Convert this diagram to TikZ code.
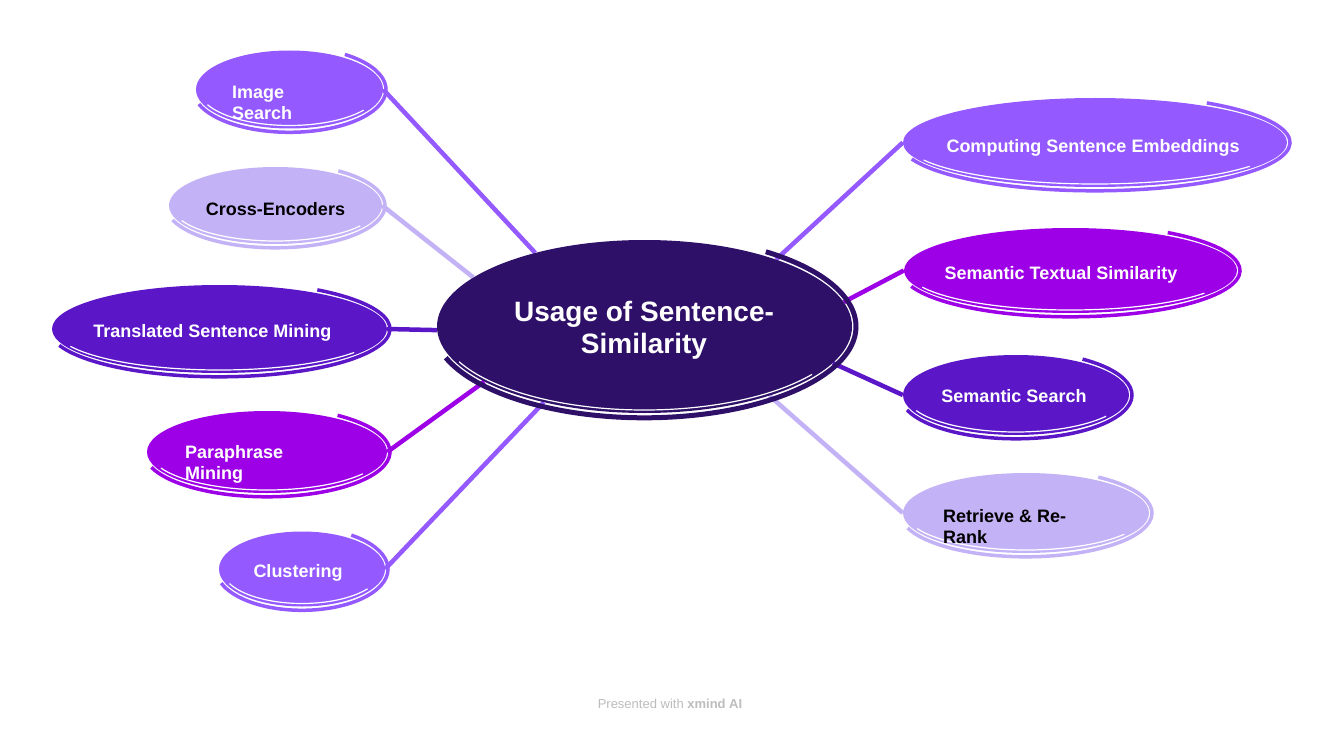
\documentclass[tikz,border=0pt]{standalone}
\usepackage{fontspec}
\setmainfont{Liberation Sans}
\usetikzlibrary{shapes.geometric}
\definecolor{cdark}{HTML}{2E1068}
\definecolor{cmed}{HTML}{9459FF}
\definecolor{cind}{HTML}{5B16C8}
\definecolor{cmag}{HTML}{9D00E6}
\definecolor{clav}{HTML}{C4B2F7}
\definecolor{cfoot}{HTML}{BDBDBD}
\pgfdeclarelayer{bg}
\pgfsetlayers{bg,main}
\newcommand\sketchblob[8]{%
  \node[blob, fill=#6, minimum width={2*#4}, minimum height={2*#5}] (#1) at (#2,#3) {};
  \pgfmathsetmacro\sbA{#4+#8}\pgfmathsetmacro\sbB{#5+#8+0.8}%
  \draw[#6, line width=#7] (#1.center) ++({\sbA*cos(-55)},{\sbB*sin(-55)})
     arc[start angle=-55, end angle=160, x radius=\sbA, y radius=\sbB];
  \pgfmathsetmacro\sbC{#4-3}\pgfmathsetmacro\sbD{#5-3}%
  \draw[white, line width=1.2pt] (#1.center) ++({\sbC*cos(35)},{\sbD*sin(35)})
     arc[start angle=35, end angle=155, x radius=\sbC, y radius=\sbD];
}
\begin{document}
\begin{tikzpicture}[x=1pt,y=-1pt,
  blob/.style={ellipse, inner sep=0pt, draw=none},
  lbl/.style={font=\bfseries\fontsize{18}{21}\selectfont, inner sep=0pt, text height=12.9pt, text depth=0pt},
  lblm/.style={font=\bfseries\fontsize{18}{21}\selectfont, inner sep=0pt, align=left, anchor=west},
  conn/.style={line width=4.5pt}]
\useasboundingbox (0,0) rectangle (1340,730);
\begin{pgfonlayer}{bg}
\fill[white] (0,0) rectangle (1340,730);
\end{pgfonlayer}

% central topic
\sketchblob{hub}{644.5}{326.5}{207.5}{86.5}{cdark}{5pt}{4}
\node[font=\bfseries\fontsize{28}{32.5}\selectfont, text=white, align=center, inner sep=0pt] (hub-t) at (644,330.5) {Usage of Sentence-\\Similarity};

% left branches
\sketchblob{img}{289.5}{89.5}{93.5}{39}{cmed}{3.5pt}{3}
\node[lblm, text=white] (img-t) at (232,103) {Image\\Search};

\sketchblob{cross}{275.5}{205.5}{106.5}{38.5}{clav}{3.5pt}{3}
\node[lbl, text=black] (cross-t) at (275.5,209) {Cross-Encoders};

\sketchblob{trans}{219.5}{329}{167.5}{44}{cind}{3.5pt}{3}
\node[lbl, text=white] (trans-t) at (212.3,330.7) {Translated Sentence Mining};

\sketchblob{para}{267}{452}{120}{41}{cmag}{3.5pt}{3}
\node[lblm, text=white] (para-t) at (185,464) {Paraphrase\\Mining};

\sketchblob{clus}{302}{569}{83}{37.5}{cmed}{3.5pt}{3}
\node[lbl, text=white] (clus-t) at (298,571) {Clustering};

% right branches
\sketchblob{comp}{1095}{142.5}{192}{44.5}{cmed}{3.5pt}{3}
\node[lbl, text=white] (comp-t) at (1093,146) {Computing Sentence Embeddings};

\sketchblob{sts}{1070.5}{270.5}{166.5}{42.5}{cmag}{3.5pt}{3}
\node[lbl, text=white] (sts-t) at (1061,273.3) {Semantic Textual Similarity};

\sketchblob{ss}{1016}{395}{113}{40}{cind}{3.5pt}{3}
\node[lbl, text=white] (ss-t) at (1014,396) {Semantic Search};

\sketchblob{rr}{1026}{513}{123}{40}{clav}{3.5pt}{3}
\node[lblm, text=black] (rr-t) at (943,527) {Retrieve \& Re-\\Rank};

% connectors
\begin{pgfonlayer}{bg}
\draw[conn, cmed] (img.east) -- (hub.146);
\draw[conn, clav] (cross.east) -- (hub.164);
\draw[conn, cind] (trans.east) -- (hub.181);
\draw[conn, cmag] (para.east) -- (hub.199);
\draw[conn, cmed] (clus.east) -- (hub.217);
\draw[conn, cmed] (comp.west) -- (hub.27);
\draw[conn, cmag] (sts.west) -- (hub.7);
\draw[conn, cind] (ss.west) -- (hub.-11);
\draw[conn, clav] (rr.west) -- (hub.-29);
\end{pgfonlayer}

% footer
\node[font=\fontsize{13}{15}\selectfont, text=cfoot, inner sep=0pt] (footer) at (670,704) {Presented with \textbf{xmind AI}};
\end{tikzpicture}
\end{document}
